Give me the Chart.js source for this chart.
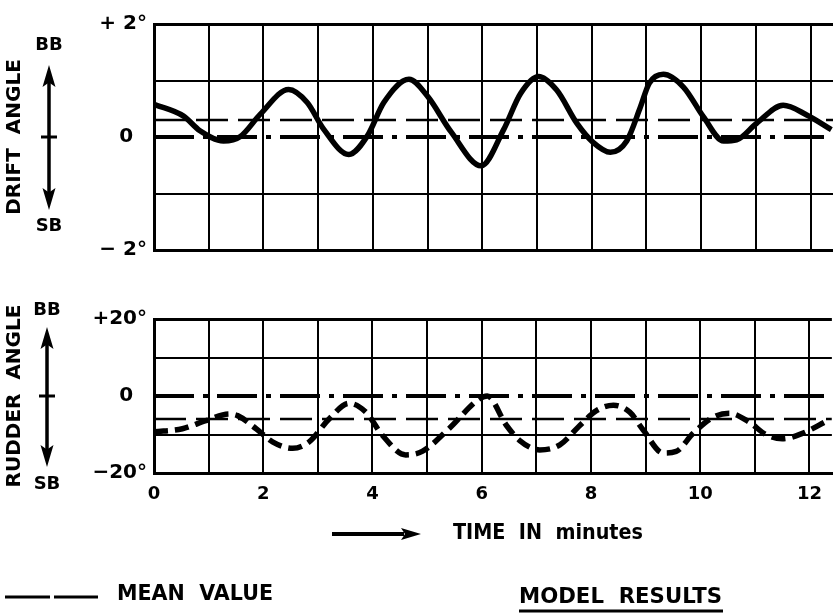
<!DOCTYPE html>
<html>
<head>
<meta charset="utf-8">
<script src="https://cdn.jsdelivr.net/npm/chart.js@4.4.1/dist/chart.umd.min.js"></script>
<style>
  html, body { margin: 0; padding: 0; background: #fff; }
  #wrap { position: relative; width: 833px; height: 613px; overflow: hidden; background: #fff; }
  canvas { position: absolute; left: 0; }
</style>
</head>
<body>
<div id="wrap">
  <canvas id="drift" width="833" height="269" style="top:0px"></canvas>
  <canvas id="rudder" width="833" height="351" style="top:262px"></canvas>
</div>
<script>
// values (time in minutes)
const driftTime  = [0, 0.54, 0.84, 1.27, 1.58, 1.94, 2.46, 2.80, 3.10, 3.56, 3.90, 4.20, 4.66, 5.00, 5.43, 5.98, 6.39, 6.70, 7.03, 7.36, 7.73, 8.03, 8.34, 8.64, 8.89, 9.05, 9.31, 9.68, 10.04, 10.41, 10.65, 11.01, 11.50, 11.93, 12.38];
const driftAngle = [0.58, 0.37, 0.11, -0.07, 0.01, 0.40, 0.84, 0.61, 0.14, -0.31, 0.02, 0.61, 1.02, 0.72, 0.09, -0.51, 0.13, 0.77, 1.07, 0.83, 0.24, -0.10, -0.27, -0.07, 0.53, 0.95, 1.11, 0.88, 0.36, -0.07, -0.05, 0.24, 0.56, 0.39, 0.13];

const rudderTime  = [0, 0.52, 0.95, 1.38, 1.53, 1.87, 2.17, 2.54, 2.84, 3.21, 3.57, 3.88, 4.18, 4.61, 4.91, 5.40, 5.95, 6.10, 6.45, 6.69, 7.06, 7.43, 7.80, 8.10, 8.41, 8.71, 8.96, 9.32, 9.56, 9.87, 10.24, 10.54, 10.90, 11.20, 11.50, 11.87, 12.33];
const rudderAngle = [-9.3, -8.5, -6.4, -4.7, -5.1, -8.5, -11.9, -13.6, -11.9, -5.9, -1.9, -4.2, -10.2, -15.3, -14.4, -8.5, -0.8, 0, -7.6, -11.5, -14.0, -12.7, -7.6, -3.8, -2.4, -4.2, -8.9, -14.8, -14.4, -9.7, -5.5, -4.5, -6.8, -10.0, -11.1, -9.7, -6.4];

const driftMean = 0.3;
const rudderMean = -6;
const timeMax = 12.41;

const timeTicks = [0, 1, 2, 3, 4, 5, 6, 7, 8, 9, 10, 11, 12];
const timeLabels = ['0', '', '2', '', '4', '', '6', '', '8', '', '10', '', '12'];
const driftTicks = [-2, -1, 0, 1, 2];
const driftTickLabels = ['\u2212 2°', '', '0  ', '', '+ 2°'];
const rudderTicks = [-20, -10, 0, 10, 20];
const rudderTickLabels = ['\u221220°', '', '0  ', '', '+20°'];

const ink = '#000';
const FONT = '"DejaVu Sans", sans-serif';

function pts(xs, ys) {
  return xs.map((x, i) => ({ x: x, y: ys[i] }));
}

function flat(v) {
  return [{ x: 0, y: v }, { x: timeMax, y: v }];
}

// text squeezed to a given width (the original lettering is condensed)
function fitText(ctx, text, left, right, y, size) {
  ctx.font = 'bold ' + size + 'px ' + FONT;
  const w = ctx.measureText(text).width;
  ctx.save();
  ctx.translate(left, y);
  ctx.scale((right - left) / w, 1);
  ctx.textAlign = 'left';
  ctx.textBaseline = 'middle';
  ctx.fillText(text, 0, 0);
  ctx.restore();
}

function arrowHead(ctx, tipX, tipY, dx, dy, len, half) {
  ctx.beginPath();
  ctx.moveTo(tipX, tipY);
  ctx.lineTo(tipX - dx * len - dy * half, tipY - dy * len - dx * half);
  ctx.lineTo(tipX - dx * len * 0.8, tipY - dy * len * 0.8);
  ctx.lineTo(tipX - dx * len + dy * half, tipY - dy * len + dx * half);
  ctx.closePath();
  ctx.fill();
}

// BB / SB double arrow at the left of each panel
function sideArrow(cfg) {
  return {
    id: 'side_' + cfg.name,
    afterDraw(chart) {
      const ctx = chart.ctx;
      const mid = chart.scales.y.getPixelForValue(0);
      ctx.save();
      ctx.fillStyle = ink;
      ctx.strokeStyle = ink;
      ctx.font = 'bold 18px ' + FONT;
      ctx.textAlign = 'center';
      ctx.textBaseline = 'middle';
      ctx.fillText('BB', cfg.x, cfg.bb);
      ctx.fillText('SB', cfg.x, cfg.sb);
      ctx.lineWidth = 3.5;
      ctx.beginPath();
      ctx.moveTo(cfg.x, cfg.top + 15);
      ctx.lineTo(cfg.x, cfg.bottom - 15);
      ctx.stroke();
      arrowHead(ctx, cfg.x, cfg.top, 0, -1, 22, 6.5);
      arrowHead(ctx, cfg.x, cfg.bottom, 0, 1, 22, 6.5);
      ctx.lineWidth = 3;
      ctx.beginPath();
      ctx.moveTo(cfg.x - 8, mid);
      ctx.lineTo(cfg.x + 8, mid);
      ctx.stroke();
      ctx.restore();
    }
  };
}

// time arrow and the captions under the lower panel
const footer = {
  id: 'footer',
  afterDraw(chart) {
    const ctx = chart.ctx;
    ctx.save();
    ctx.fillStyle = ink;
    ctx.strokeStyle = ink;
    ctx.lineWidth = 4;
    ctx.beginPath();
    ctx.moveTo(332, 272);
    ctx.lineTo(404, 272);
    ctx.stroke();
    arrowHead(ctx, 421, 272, 1, 0, 20, 6);
    fitText(ctx, 'TIME  IN  minutes', 453, 643, 272, 21);

    ctx.lineWidth = 3;
    ctx.beginPath();
    ctx.moveTo(5, 335); ctx.lineTo(50, 335);
    ctx.moveTo(54, 335); ctx.lineTo(98, 335);
    ctx.stroke();
    fitText(ctx, 'MEAN  VALUE', 117, 273, 332, 22);

    fitText(ctx, 'MODEL  RESULTS', 519, 722, 335, 22);
    ctx.lineWidth = 3;
    ctx.beginPath();
    ctx.moveTo(519, 349); ctx.lineTo(723, 349);
    ctx.stroke();
    ctx.restore();
  }
};

function panel(el, cfg) {
  return new Chart(document.getElementById(el), {
    type: 'line',
    data: {
      datasets: [
        {
          data: pts(cfg.time, cfg.values),
          borderColor: ink,
          borderWidth: 5.5,
          borderDash: cfg.curveDash,
          pointRadius: 0,
          cubicInterpolationMode: 'monotone',
          fill: false
        },
        {
          data: flat(cfg.mean),
          borderColor: ink,
          borderWidth: 2.5,
          borderDash: [32, 10],
          pointRadius: 0,
          fill: false
        },
        {
          data: flat(0),
          borderColor: ink,
          borderWidth: 4,
          borderDash: [40, 9, 5, 9],
          pointRadius: 0,
          fill: false
        }
      ]
    },
    options: {
      responsive: false,
      animation: false,
      events: [],
      layout: { padding: cfg.padding },
      plugins: {
        legend: { display: false },
        tooltip: { enabled: false }
      },
      scales: {
        x: {
          type: 'linear',
          min: 0,
          max: timeMax,
          afterBuildTicks: s => { s.ticks = timeTicks.map(v => ({ value: v })); },
          afterFit: s => { s.height = cfg.xHeight; },
          grid: {
            color: ink,
            lineWidth: c => (c.tick && c.tick.value === 0 ? 3 : 2),
            drawTicks: false
          },
          border: { color: ink, width: 3 },
          ticks: {
            display: cfg.showTime,
            autoSkip: false,
            maxRotation: 0,
            padding: 11,
            color: ink,
            font: { family: FONT, size: 18, weight: 'bold' },
            callback: v => timeLabels[timeTicks.indexOf(v)]
          }
        },
        y: {
          min: cfg.ticks[0],
          max: cfg.ticks[cfg.ticks.length - 1],
          afterBuildTicks: s => { s.ticks = cfg.ticks.map(v => ({ value: v })); },
          afterFit: s => { s.width = 154; },
          grid: {
            color: c => (c.tick && c.tick.value === 0 ? 'rgba(0,0,0,0)' : ink),
            lineWidth: c => (c.tick && c.tick.value === cfg.ticks[cfg.ticks.length - 1] ? 3 : 2),
            drawTicks: false
          },
          border: { color: ink, width: 3 },
          ticks: {
            padding: 7,
            color: ink,
            font: { family: FONT, size: 20, weight: 'bold' },
            callback: v => cfg.labels[cfg.ticks.indexOf(v)]
          },
          title: {
            display: true,
            text: cfg.title,
            color: ink,
            padding: { top: 3, bottom: 0 },
            font: { family: FONT, size: 20, weight: 'bold' }
          }
        }
      }
    },
    plugins: cfg.extra
  });
}

panel('drift', {
  time: driftTime,
  values: driftAngle,
  mean: driftMean,
  curveDash: [],
  ticks: driftTicks,
  labels: driftTickLabels,
  title: 'DRIFT  ANGLE',
  showTime: false,
  xHeight: 12,
  padding: { top: 24, right: 0, bottom: 0, left: 0 },
  extra: [sideArrow({ name: 'drift', x: 49, bb: 45, sb: 226, top: 65, bottom: 210 })]
});

panel('rudder', {
  time: rudderTime,
  values: rudderAngle,
  mean: rudderMean,
  curveDash: [14, 7],
  ticks: rudderTicks,
  labels: rudderTickLabels,
  title: 'RUDDER  ANGLE',
  showTime: true,
  xHeight: 40,
  padding: { top: 57, right: 0, bottom: 100, left: 0 },
  extra: [sideArrow({ name: 'rudder', x: 47, bb: 48, sb: 222, top: 65, bottom: 205 }), footer]
});
</script>
</body>
</html>
